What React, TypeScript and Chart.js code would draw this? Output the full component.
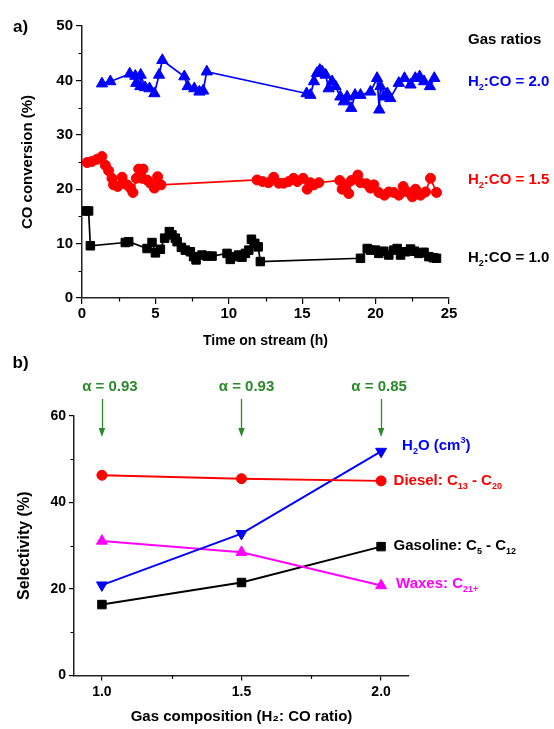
import { useEffect, useRef } from 'react';
import { Chart, registerables } from 'chart.js';

Chart.register(...registerables);

// ---------- Panel a data: CO conversion vs time on stream ----------
const timeRatio20 = [1.36, 1.93, 3.25, 3.63, 3.7, 3.97, 4.0, 4.3, 4.6, 4.93, 5.25, 5.47, 6.97, 7.2, 7.65, 8.0, 8.25, 8.5,
  15.3, 15.56, 15.8, 16.0, 16.2, 16.36, 16.6, 16.8, 17.04, 17.27, 17.6, 17.83, 18.06, 18.34, 18.6, 18.97, 19.65, 20.1,
  20.25, 20.33, 20.56, 20.8, 21.0, 21.58, 21.97, 22.38, 22.7, 23.0, 23.3, 23.7, 24.0];
const convRatio20 = [39.4, 39.8, 41.2, 40.8, 39.5, 38.9, 41.0, 38.7, 38.5, 37.6, 41.0, 43.7, 40.7, 38.9, 38.5, 37.9, 38.1, 41.6,
  37.6, 37.3, 39.8, 41.3, 41.9, 41.6, 41.0, 38.5, 39.8, 38.9, 37.0, 36.1, 37.0, 34.9, 37.3, 37.3, 37.9, 40.4,
  34.6, 38.9, 37.0, 37.6, 36.7, 39.5, 40.4, 39.2, 40.4, 40.7, 39.8, 38.9, 40.4];

const timeRatio15 = [0.34, 0.68, 1.02, 1.36, 1.59, 1.81, 2.04, 2.15, 2.43, 2.73, 2.84, 3.07, 3.3, 3.47, 3.7, 3.86, 4.09, 4.16,
  4.43, 4.66, 4.93, 5.15, 5.38, 11.93, 12.3, 12.7, 13.06, 13.4, 13.74, 14.08, 14.42, 14.66, 15.06, 15.34, 15.56, 15.79,
  16.13, 17.56, 17.72, 18.0, 18.17, 18.34, 18.79, 18.97, 19.38, 19.65, 19.88, 20.22, 20.6, 20.9, 21.24, 21.58, 21.88,
  22.15, 22.5, 22.72, 23.06, 23.4, 23.74, 24.15];
const convRatio15 = [24.9, 25.1, 25.5, 26.0, 24.4, 23.4, 22.0, 20.8, 20.5, 22.2, 21.1, 20.8, 20.2, 19.4, 22.0, 23.7, 22.0, 23.7,
  21.7, 21.1, 20.2, 22.3, 20.8, 21.7, 21.4, 21.2, 22.2, 21.1, 21.1, 21.4, 22.0, 21.4, 22.0, 20.0, 21.2, 20.8,
  21.2, 21.6, 20.0, 20.8, 19.2, 21.6, 22.6, 21.2, 21.0, 20.2, 20.8, 19.4, 18.9, 19.5, 19.4, 18.9, 20.5,
  19.5, 18.6, 20.0, 18.9, 19.5, 22.0, 19.4];

const timeRatio10 = [0.23, 0.45, 0.57, 2.95, 3.18, 4.43, 4.77, 5.0, 5.34, 5.63, 5.95, 6.13, 6.36, 6.48, 6.77, 7.04, 7.38, 7.6,
  7.77, 8.18, 8.52, 8.86, 9.88, 10.1, 10.4, 10.67, 10.9, 11.13, 11.36, 11.54, 11.77, 12.0, 12.15, 18.97, 19.43, 19.65,
  20.0, 20.22, 20.56, 20.9, 21.24, 21.47, 21.7, 22.04, 22.38, 22.65, 22.95, 23.3, 23.63, 23.93, 24.15];
const convRatio10 = [16.0, 16.0, 9.6, 10.2, 10.35, 9.1, 10.2, 8.3, 8.95, 11.0, 12.2, 11.6, 11.0, 10.35, 9.3, 8.8, 8.5, 7.6,
  7.0, 7.9, 7.7, 7.7, 8.2, 7.1, 7.6, 7.9, 7.5, 8.2, 8.8, 10.8, 10.05, 9.4, 6.7, 7.3, 9.1, 8.8,
  8.8, 8.2, 8.6, 7.9, 8.8, 9.1, 7.9, 8.5, 9.0, 8.6, 8.2, 8.4, 7.6, 7.4, 7.3];

const timeMajorTicks = [0, 5, 10, 15, 20, 25];
const timeMinorTicks = [2.5, 7.5, 12.5, 17.5, 22.5];
const convMinorTicks = [5, 15, 25, 35, 45];

// ---------- Panel b data: selectivity vs gas composition ----------
const gasRatios = [1.0, 1.5, 2.0];
const gasolineSel = [16.4, 21.5, 29.8];
const dieselSel = [46.3, 45.5, 45.0];
const waxesSel = [31.1, 28.5, 20.8];
const waterSel = [20.9, 32.8, 51.8];
const alphaLabels = ['α = 0.93', 'α = 0.93', 'α = 0.85'];
const ratioMinorTicks = [1.25, 1.75];
const selMinorTicks = [10, 30, 50];

const FONT = "'Liberation Sans', Arial, Helvetica, sans-serif";
const BLUE = '#0000ff';
const RED = '#ff0000';
const BLACK = '#000000';
const MAGENTA = '#ff00ff';
const GREEN = '#2a8a2a';

type Seg = { t: string; sub?: boolean; sup?: boolean };

function drawRich(ctx: CanvasRenderingContext2D, segs: Seg[], x: number, y: number, size: number, color: string) {
  let cx = x;
  ctx.save();
  ctx.fillStyle = color;
  ctx.textBaseline = 'middle';
  ctx.textAlign = 'left';
  for (const s of segs) {
    const small = s.sub || s.sup;
    const fs = small ? Math.round(size * 0.62) : size;
    ctx.font = `bold ${fs}px ${FONT}`;
    const dy = s.sub ? size * 0.38 : s.sup ? -size * 0.33 : 0;
    ctx.fillText(s.t, cx, y + dy);
    cx += ctx.measureText(s.t).width;
  }
  ctx.restore();
}

function drawMinor(chart: any, xVals: number[], yVals: number[], len: number) {
  const ctx = chart.ctx as CanvasRenderingContext2D;
  const xs = chart.scales.x;
  const ys = chart.scales.y;
  ctx.save();
  ctx.strokeStyle = '#000';
  ctx.lineWidth = 1.2;
  ctx.beginPath();
  for (const v of xVals) {
    const px = Math.round(xs.getPixelForValue(v)) + 0.5;
    ctx.moveTo(px, xs.top);
    ctx.lineTo(px, xs.top + len);
  }
  for (const v of yVals) {
    const py = Math.round(ys.getPixelForValue(v)) + 0.5;
    ctx.moveTo(ys.right, py);
    ctx.lineTo(ys.right - len, py);
  }
  ctx.stroke();
  ctx.restore();
}

function pts(xs: number[], ys: number[]) {
  return xs.map((x, i) => ({ x, y: ys[i] }));
}

const tickFont = (size: number) => ({ family: FONT, size, weight: 'bold' as const });

export default function App() {
  const refA = useRef<HTMLCanvasElement | null>(null);
  const refB = useRef<HTMLCanvasElement | null>(null);

  useEffect(() => {
    if (!refA.current || !refB.current) return;

    const annotA = {
      id: 'annotA',
      afterDraw(chart: any) {
        drawMinor(chart, timeMinorTicks, convMinorTicks, 3.5);
        const ctx = chart.ctx as CanvasRenderingContext2D;
        const right = chart.chartArea.right;
        drawRich(ctx, [{ t: 'a)' }], 13, 27, 17, BLACK);
        drawRich(ctx, [{ t: 'Gas ratios' }], right + 19, 40, 15, BLACK);
        drawRich(ctx, [{ t: 'H' }, { t: '2', sub: true }, { t: ':CO = 2.0' }], right + 19, 82, 15, BLUE);
        drawRich(ctx, [{ t: 'H' }, { t: '2', sub: true }, { t: ':CO = 1.5' }], right + 19, 180, 15, RED);
        drawRich(ctx, [{ t: 'H' }, { t: '2', sub: true }, { t: ':CO = 1.0' }], right + 19, 258, 15, BLACK);
      },
    };

    const chartA = new Chart(refA.current, {
      type: 'scatter',
      data: {
        datasets: [
          {
            data: pts(timeRatio20, convRatio20), showLine: true, borderColor: BLUE, backgroundColor: BLUE,
            borderWidth: 1.7, pointStyle: 'triangle', pointRadius: 6.5, pointBorderWidth: 1,
          },
          {
            data: pts(timeRatio15, convRatio15), showLine: true, borderColor: RED, backgroundColor: RED,
            borderWidth: 1.7, pointStyle: 'circle', pointRadius: 5, pointBorderWidth: 1,
          },
          {
            data: pts(timeRatio10, convRatio10), showLine: true, borderColor: BLACK, backgroundColor: BLACK,
            borderWidth: 1.7, pointStyle: 'rect', pointRadius: 6, pointBorderWidth: 1,
          },
        ],
      },
      options: {
        animation: false,
        responsive: false,
        layout: { padding: { left: 0, top: 26, right: 105, bottom: 0 } },
        plugins: { legend: { display: false }, tooltip: { enabled: false } },
        scales: {
          x: {
            type: 'linear', min: 0, max: 25,
            afterBuildTicks: (s: any) => { s.ticks = timeMajorTicks.map((v) => ({ value: v })); },
            ticks: { font: tickFont(15), color: '#000', padding: 1, maxRotation: 0 },
            grid: { display: true, drawOnChartArea: false, drawTicks: true, tickLength: 6, color: '#000', lineWidth: 1.2 },
            border: { display: true, color: '#222', width: 1.5 },
            title: { display: true, text: 'Time on stream (h)', font: tickFont(14), color: '#000', padding: 0 },
            afterFit: (s: any) => { s.height = 52; },
          },
          y: {
            type: 'linear', min: 0, max: 50,
            ticks: { stepSize: 10, font: tickFont(15), color: '#000', padding: 3 },
            grid: { display: true, drawOnChartArea: false, drawTicks: true, tickLength: 6, color: '#000', lineWidth: 1.2 },
            border: { display: true, color: '#222', width: 1.5 },
            title: { display: true, text: 'CO conversion (%)', font: tickFont(15), color: '#000', padding: { top: 19, bottom: 0 } },
            afterFit: (s: any) => { s.width = 82; },
          },
        },
      },
      plugins: [annotA],
    } as any);

    const annotB = {
      id: 'annotB',
      afterDraw(chart: any) {
        drawMinor(chart, ratioMinorTicks, selMinorTicks, 3.5);
        const ctx = chart.ctx as CanvasRenderingContext2D;
        const xs = chart.scales.x;
        const ys = chart.scales.y;
        drawRich(ctx, [{ t: 'b)' }], 12.5, 13.5, 17, BLACK);
        const offs = [8, 5, -2];
        gasRatios.forEach((r, i) => {
          const px = xs.getPixelForValue(r);
          ctx.save();
          ctx.font = `bold 15px ${FONT}`;
          ctx.fillStyle = GREEN;
          ctx.textAlign = 'center';
          ctx.textBaseline = 'middle';
          ctx.fillText(alphaLabels[i], px + offs[i], 37);
          ctx.strokeStyle = GREEN;
          ctx.lineWidth = 1.3;
          ctx.beginPath();
          ctx.moveTo(Math.round(px) + 0.5, 49);
          ctx.lineTo(Math.round(px) + 0.5, 80);
          ctx.stroke();
          ctx.beginPath();
          ctx.moveTo(px - 3.2, 78);
          ctx.lineTo(px + 3.2, 78);
          ctx.lineTo(px, 87);
          ctx.closePath();
          ctx.fill();
          ctx.restore();
        });
        const lx = xs.getPixelForValue(gasRatios[2]);
        const last = gasRatios.length - 1;
        drawRich(ctx, [{ t: 'H' }, { t: '2', sub: true }, { t: 'O (cm' }, { t: '3', sup: true }, { t: ')' }],
          lx + 21, ys.getPixelForValue(waterSel[last]) - 6, 15, BLUE);
        drawRich(ctx, [{ t: 'Diesel: C' }, { t: '13', sub: true }, { t: ' - C' }, { t: '20', sub: true }],
          lx + 12.5, ys.getPixelForValue(dieselSel[last]), 15, RED);
        drawRich(ctx, [{ t: 'Gasoline: C' }, { t: '5', sub: true }, { t: ' - C' }, { t: '12', sub: true }],
          lx + 12.5, ys.getPixelForValue(gasolineSel[last]) - 1, 15, BLACK);
        drawRich(ctx, [{ t: 'Waxes: C' }, { t: '21+', sub: true }],
          lx + 15, ys.getPixelForValue(waxesSel[last]) - 2, 15, MAGENTA);
      },
    };

    const chartB = new Chart(refB.current, {
      type: 'scatter',
      data: {
        datasets: [
          {
            data: pts(gasRatios, dieselSel), showLine: true, borderColor: RED, backgroundColor: RED,
            borderWidth: 2, pointStyle: 'circle', pointRadius: 5, pointBorderWidth: 1,
          },
          {
            data: pts(gasRatios, waterSel), showLine: true, borderColor: BLUE, backgroundColor: BLUE,
            borderWidth: 2, pointStyle: 'triangle', pointRotation: 180, pointRadius: 6.3, pointBorderWidth: 1,
          },
          {
            data: pts(gasRatios, waxesSel), showLine: true, borderColor: MAGENTA, backgroundColor: MAGENTA,
            borderWidth: 2, pointStyle: 'triangle', pointRadius: 6.3, pointBorderWidth: 1,
          },
          {
            data: pts(gasRatios, gasolineSel), showLine: true, borderColor: BLACK, backgroundColor: BLACK,
            borderWidth: 2, pointStyle: 'rect', pointRadius: 6, pointBorderWidth: 1,
          },
        ],
      },
      options: {
        animation: false,
        responsive: false,
        layout: { padding: { left: 0, top: 66, right: 145, bottom: 3 } },
        plugins: { legend: { display: false }, tooltip: { enabled: false } },
        scales: {
          x: {
            type: 'linear', min: 0.9, max: 2.1,
            afterBuildTicks: (s: any) => { s.ticks = gasRatios.map((v) => ({ value: v })); },
            ticks: { font: tickFont(14), color: '#000', padding: 3, maxRotation: 0, callback: (v: any) => Number(v).toFixed(1) },
            grid: { display: true, drawOnChartArea: false, drawTicks: true, tickLength: 5, color: '#000', lineWidth: 1.2 },
            border: { display: true, color: '#222', width: 1.5 },
            title: { display: true, text: 'Gas composition (H₂: CO ratio)', font: tickFont(15), color: '#000', padding: 0 },
            afterFit: (s: any) => { s.height = 50.5; },
          },
          y: {
            type: 'linear', min: 0, max: 60,
            ticks: { stepSize: 20, font: tickFont(14), color: '#000', padding: 3 },
            grid: { display: true, drawOnChartArea: false, drawTicks: true, tickLength: 5, color: '#000', lineWidth: 1.2 },
            border: { display: true, color: '#222', width: 1.5 },
            title: { display: true, text: 'Selectivity (%)', font: tickFont(16), color: '#000', padding: { top: 15, bottom: 0 } },
            afterFit: (s: any) => { s.width = 74; },
          },
        },
      },
      plugins: [annotB],
    } as any);

    return () => {
      chartA.destroy();
      chartB.destroy();
    };
  }, []);

  return (
    <div style={{ position: 'fixed', left: 0, top: 0, width: 554, height: 729, background: '#fff' }}>
      <canvas ref={refA} width={554} height={350} style={{ position: 'absolute', left: 0, top: 0, width: 554, height: 350 }} />
      <canvas ref={refB} width={554} height={379} style={{ position: 'absolute', left: 0, top: 350, width: 554, height: 379 }} />
    </div>
  );
}
